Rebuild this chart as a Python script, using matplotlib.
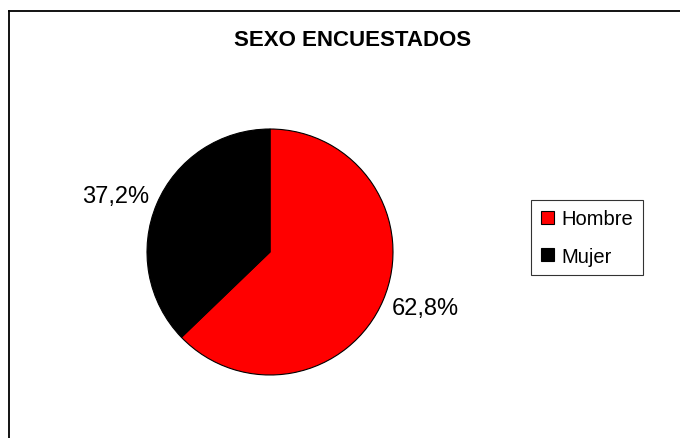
import matplotlib
matplotlib.use("Agg")
import numpy as np
import matplotlib.pyplot as plt
from matplotlib.patches import Patch
from matplotlib.lines import Line2D

categories = ["Hombre", "Mujer"]
values = [62.8, 37.2]
colors = ["#FF0000", "#000000"]
title = "SEXO ENCUESTADOS"

plt.rcParams['font.family'] = ['Liberation Sans', 'DejaVu Sans']

W, H = 680, 439
fig = plt.figure(figsize=(W/100, H/100), dpi=100)

# frame (left and top borders visible)
fig.add_artist(Line2D([8.5/W, 8.5/W], [0, 1 - 11.5/H], transform=fig.transFigure, color='black', lw=1.3))
fig.add_artist(Line2D([8.5/W, 1], [1 - 11.5/H, 1 - 11.5/H], transform=fig.transFigure, color='black', lw=1.3))

cx, cy, r = 270, 253, 123
ax = fig.add_axes([(cx - r)/W, (H - cy - r)/H, 2*r/W, 2*r/H])

def fmt(p):
    return f"{p:.1f}".replace(".", ",") + "%"

wedges, texts, autotexts = ax.pie(values, colors=colors, startangle=90, counterclock=False,
                                  wedgeprops=dict(edgecolor='black', linewidth=0.8),
                                  autopct=fmt, pctdistance=1.34)
rot = np.deg2rad(3)
for t in autotexts:
    t.set_fontsize(17)
    t.set_color('black')
    x, y = t.get_position()
    t.set_position((x*np.cos(rot) - y*np.sin(rot), x*np.sin(rot) + y*np.cos(rot)))
ax.set_xlim(-1, 1)
ax.set_ylim(-1, 1)
ax.set_aspect('equal')
ax.axis('off')

fig.text(353/W, 1 - 40/H, title, ha='center', va='center', fontsize=16, fontweight='bold')

handles = [Patch(facecolor=c, edgecolor='black', linewidth=0.8) for c in colors]
leg = fig.legend(handles, categories, loc='center', bbox_to_anchor=(587/W, 1 - 238.5/H),
                 fontsize=14.5, frameon=True, fancybox=False, handlelength=0.65, handleheight=0.65,
                 handletextpad=0.4, labelspacing=0.9, borderpad=0.45, borderaxespad=0)
leg.get_frame().set_edgecolor('black')
leg.get_frame().set_linewidth(0.8)

fig.savefig("out.png", dpi=100)
